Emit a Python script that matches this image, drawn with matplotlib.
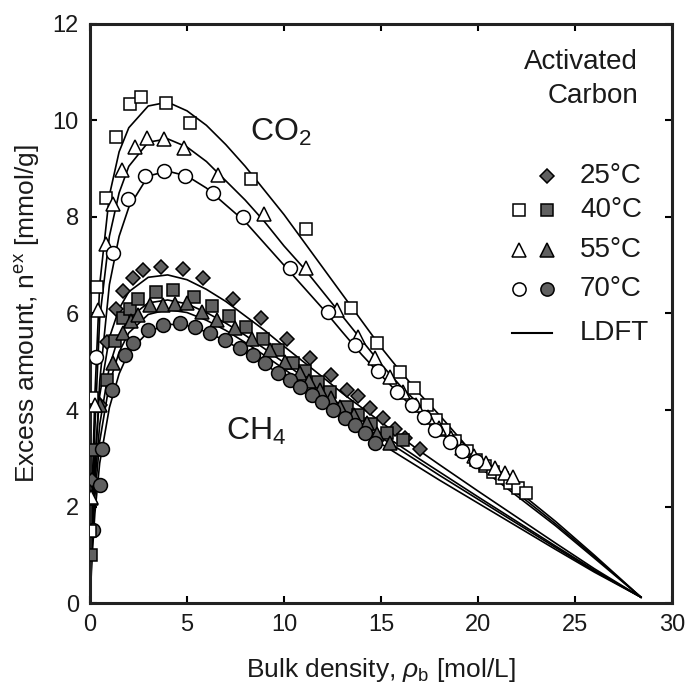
import numpy as np
import matplotlib
matplotlib.use("Agg")
import matplotlib.pyplot as plt

plt.rcParams['font.family'] = ['Liberation Sans', 'DejaVu Sans']
plt.rcParams['mathtext.fontset'] = 'custom'
plt.rcParams['mathtext.rm'] = 'Liberation Sans'
plt.rcParams['mathtext.it'] = 'Liberation Sans:italic'

# CO2, open markers
co2_40_x = [0.02, 0.1, 0.36, 0.81, 1.34, 2.06, 2.61, 3.9, 5.15, 8.28, 11.13, 13.44, 14.78, 15.98,
            16.72, 17.35, 17.84, 18.26, 18.81, 19.42, 19.88, 20.36, 20.79, 21.22, 21.65, 22.08, 22.47]
co2_40_y = [1.5, 4.25, 6.55, 8.39, 9.66, 10.34, 10.49, 10.36, 9.95, 8.78, 7.76, 6.11, 5.38, 4.79,
            4.45, 4.1, 3.8, 3.58, 3.36, 3.14, 2.97, 2.84, 2.72, 2.59, 2.49, 2.38, 2.27]
co2_55_x = [0.05, 0.26, 0.43, 0.81, 1.17, 1.63, 2.32, 2.95, 3.81, 4.86, 6.6, 8.97, 11.13, 12.72,
            13.83, 14.69, 15.46, 16.15, 16.8, 17.4, 18.0, 18.6, 19.2, 19.8, 20.4, 20.9, 21.4, 21.8]
co2_55_y = [2.2, 4.1, 6.07, 7.45, 8.27, 8.97, 9.46, 9.63, 9.61, 9.42, 8.86, 8.06, 6.94, 6.07,
            5.52, 5.08, 4.69, 4.38, 4.1, 3.85, 3.62, 3.42, 3.22, 3.04, 2.9, 2.8, 2.7, 2.62]
co2_70_x = [0.3, 1.2, 1.98, 2.84, 3.83, 4.9, 6.32, 7.9, 10.31, 12.28, 13.66, 14.82, 15.81, 16.58,
            17.2, 17.78, 18.56, 19.2, 19.9]
co2_70_y = [5.1, 7.26, 8.37, 8.84, 8.96, 8.84, 8.5, 8.01, 6.94, 6.04, 5.35, 4.81, 4.38, 4.1,
            3.85, 3.59, 3.34, 3.15, 2.95]

# CH4, filled markers
ch4_25_x = [0.09, 0.5, 0.86, 1.34, 1.72, 2.2, 2.72, 3.64, 4.78, 5.84, 7.36, 8.81, 10.14, 11.34,
            12.4, 13.23, 13.83, 14.43, 15.12, 15.7, 16.24, 17.0]
ch4_25_y = [2.55, 4.1, 5.4, 6.1, 6.47, 6.73, 6.9, 6.97, 6.92, 6.73, 6.31, 5.9, 5.48, 5.07,
            4.72, 4.42, 4.28, 4.04, 3.83, 3.6, 3.41, 3.19]
ch4_40_x = [0.05, 0.26, 0.86, 1.29, 1.72, 2.06, 2.49, 3.4, 4.26, 5.36, 6.3, 7.18, 8.02, 8.9,
            9.71, 10.48, 11.1, 11.77, 12.37, 13.23, 13.8, 14.5, 15.3, 16.15]
ch4_40_y = [0.99, 3.17, 4.62, 5.42, 5.9, 6.1, 6.31, 6.45, 6.49, 6.35, 6.16, 5.95, 5.73, 5.48,
            5.24, 4.97, 4.8, 4.59, 4.38, 4.07, 3.9, 3.7, 3.52, 3.38]
ch4_55_x = [0.05, 0.52, 1.2, 1.72, 2.1, 2.49, 3.09, 3.78, 4.4, 4.98, 5.76, 6.53, 7.47, 8.33,
            9.28, 10.05, 10.82, 11.3, 11.86, 12.4, 12.89, 13.6, 14.26, 14.78, 15.46]
ch4_55_y = [2.17, 4.1, 4.97, 5.59, 5.85, 5.97, 6.18, 6.18, 6.2, 6.21, 6.04, 5.87, 5.69, 5.48,
            5.24, 5.0, 4.76, 4.6, 4.41, 4.24, 4.07, 3.9, 3.73, 3.5, 3.31]
ch4_70_x = [0.17, 0.52, 0.6, 1.15, 1.8, 2.23, 3.0, 3.78, 4.64, 5.41, 6.19, 6.96, 7.73, 8.42,
            9.02, 9.71, 10.31, 10.82, 11.43, 11.94, 12.54, 13.14, 13.66, 14.18, 14.69]
ch4_70_y = [1.51, 2.45, 3.2, 4.41, 5.14, 5.38, 5.66, 5.76, 5.8, 5.73, 5.59, 5.45, 5.28, 5.14,
            4.97, 4.76, 4.62, 4.48, 4.31, 4.17, 4.0, 3.83, 3.69, 3.52, 3.31]

# LDFT curves
ldft_x = [0, 0.1, 0.25, 0.5, 1, 1.5, 2, 3, 4, 5, 6, 7, 8, 9, 10, 11, 12, 13, 14, 15, 16, 17, 18,
          20, 22, 24, 26, 28.4]
ldft_co2_40 = [0, 2.2, 4.3, 6.6, 8.45, 9.35, 9.85, 10.3, 10.38, 10.2, 9.9, 9.5, 9.05, 8.55, 8.05,
               7.5, 6.95, 6.4, 5.85, 5.3, 4.8, 4.33, 3.9, 2.98, 2.34, 1.69, 0.99, 0.12]
ldft_co2_55 = [0, 1.8, 3.6, 5.9, 7.6, 8.5, 9.05, 9.55, 9.62, 9.45, 9.15, 8.75, 8.35, 7.9, 7.4,
               6.95, 6.45, 5.95, 5.45, 4.95, 4.5, 4.1, 3.72, 2.9, 2.28, 1.64, 0.96, 0.12]
ldft_co2_70 = [0, 1.3, 2.6, 4.6, 6.6, 7.6, 8.2, 8.85, 8.95, 8.85, 8.6, 8.25, 7.9, 7.45, 7.0,
               6.55, 6.1, 5.62, 5.15, 4.72, 4.3, 3.92, 3.57, 2.84, 2.22, 1.6, 0.93, 0.12]
ldft_ch4_25 = [0, 1.6, 3.0, 4.3, 5.5, 6.1, 6.45, 6.75, 6.8, 6.7, 6.5, 6.25, 5.95, 5.65, 5.32,
               5.0, 4.68, 4.35, 4.05, 3.75, 3.45, 3.15, 2.87, 2.32, 1.78, 1.24, 0.71, 0.12]
ldft_ch4_40 = [0, 1.3, 2.5, 3.7, 4.9, 5.55, 5.9, 6.22, 6.28, 6.2, 6.02, 5.8, 5.55, 5.27, 4.98,
               4.68, 4.38, 4.08, 3.8, 3.52, 3.25, 2.98, 2.72, 2.2, 1.69, 1.18, 0.68, 0.12]
ldft_ch4_55 = [0, 1.1, 2.2, 3.35, 4.55, 5.2, 5.6, 5.98, 6.08, 6.02, 5.86, 5.65, 5.4, 5.13, 4.85,
               4.56, 4.27, 3.98, 3.7, 3.43, 3.17, 2.91, 2.65, 2.15, 1.65, 1.15, 0.66, 0.12]
ldft_ch4_70 = [0, 0.9, 1.85, 2.9, 4.05, 4.75, 5.2, 5.62, 5.78, 5.75, 5.62, 5.43, 5.2, 4.95, 4.68,
               4.4, 4.12, 3.84, 3.57, 3.3, 3.05, 2.8, 2.55, 2.07, 1.59, 1.11, 0.64, 0.12]

legend_temps = ['25°C', '40°C', '55°C', '70°C']

GRAY = '#606060'
TXT = '#1a1a1a'
EW = 1.1

fig = plt.figure(figsize=(6.86, 6.89), dpi=100)
ax = fig.add_axes([0.1312, 0.1248, 0.8484, 0.8404])

for yy in [ldft_co2_40, ldft_co2_55, ldft_co2_70, ldft_ch4_25, ldft_ch4_40, ldft_ch4_55, ldft_ch4_70]:
    ax.plot(ldft_x, yy, color='black', lw=1.2, zorder=2)

mk = dict(ls='none', markeredgecolor='black', markeredgewidth=EW, zorder=3)
ax.plot(ch4_25_x, ch4_25_y, marker='D', ms=7, markerfacecolor=GRAY, **mk)
ax.plot(ch4_40_x, ch4_40_y, marker='s', ms=8.5, markerfacecolor=GRAY, **mk)
ax.plot(ch4_55_x, ch4_55_y, marker='^', ms=10, markerfacecolor=GRAY, **mk)
ax.plot(ch4_70_x, ch4_70_y, marker='o', ms=10, markerfacecolor=GRAY, **mk)
ax.plot(co2_40_x, co2_40_y, marker='s', ms=8.5, markerfacecolor='white', **mk)
ax.plot(co2_55_x, co2_55_y, marker='^', ms=10, markerfacecolor='white', **mk)
ax.plot(co2_70_x, co2_70_y, marker='o', ms=10, markerfacecolor='white', **mk)

ax.set_xlim(0, 30)
ax.set_ylim(0, 12)
ax.set_xticks(range(0, 31, 5))
ax.set_yticks(range(0, 13, 2))
ax.tick_params(direction='in', length=5, width=1.5, top=True, right=True, labelsize=17,
               pad=8, labelcolor=TXT)
for s in ax.spines.values():
    s.set_linewidth(2.2)
    s.set_color('#222222')

ax.set_xlabel(r'Bulk density, $\rho_{\mathrm{b}}$ [mol/L]', fontsize=19, color=TXT)
ax.set_ylabel(r'Excess amount, n$^{\mathrm{ex}}$ [mmol/g]', fontsize=19, color=TXT)
ax.xaxis.set_label_coords(0.5, -0.092)
ax.yaxis.set_label_coords(-0.083, 0.5)

ax.text(8.25, 9.58, r'CO$_2$', fontsize=23, ha='left', va='baseline', color=TXT)
ax.text(7.03, 3.38, r'CH$_4$', fontsize=23, ha='left', va='baseline', color=TXT)

# custom legend block
tr = ax.transAxes
ax.text(0.942, 0.934, 'Activated', transform=tr, ha='right', va='center', fontsize=20, color=TXT)
ax.text(0.942, 0.876, 'Carbon', transform=tr, ha='right', va='center', fontsize=20, color=TXT)
rows = [0.7375, 0.679, 0.61, 0.542]
open_mk = [None, 's', '^', 'o']
fill_mk = ['D', 's', '^', 'o']
sizes = {'D': 7, 's': 8, '^': 10, 'o': 9.5}
for r, om, fm, lab in zip(rows, open_mk, fill_mk, legend_temps):
    if om:
        ax.plot([0.737], [r], transform=tr, marker=om, ms=sizes[om], markerfacecolor='white',
                clip_on=False, **mk)
    ax.plot([0.785], [r], transform=tr, marker=fm, ms=sizes[fm], markerfacecolor=GRAY,
            clip_on=False, **mk)
    ax.text(0.842, r, lab, transform=tr, ha='left', va='center', fontsize=20, color=TXT)
ax.plot([0.725, 0.794], [0.466, 0.466], transform=tr, color='black', lw=1.5)
ax.text(0.842, 0.466, 'LDFT', transform=tr, ha='left', va='center', fontsize=20, color=TXT)

fig.savefig('out.png', dpi=100)
